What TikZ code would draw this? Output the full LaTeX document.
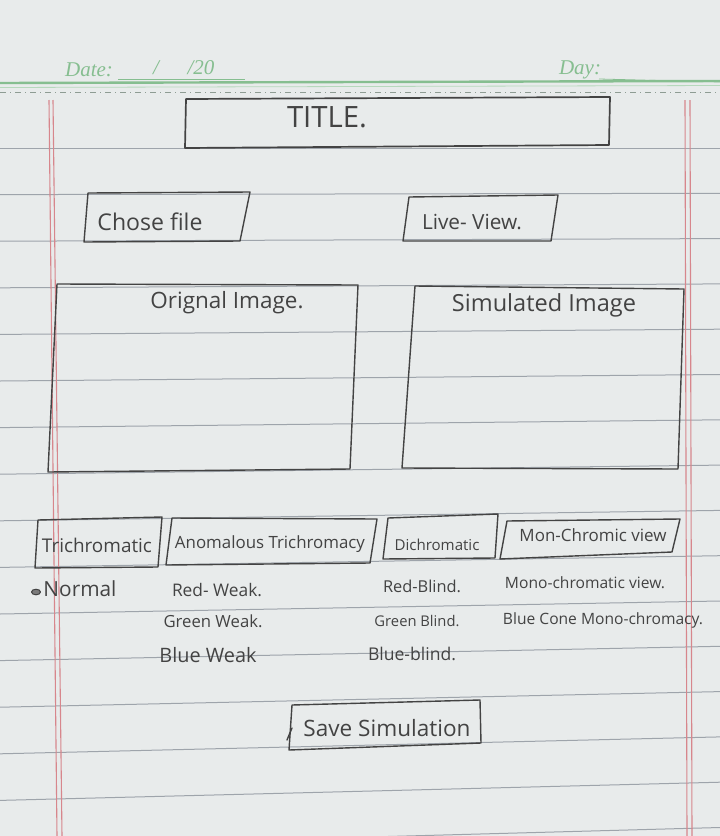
\documentclass[tikz,border=0pt]{standalone}
\usepackage{fontspec}
\setmainfont{Open Sans}
\newfontfamily\printfont{Liberation Serif}
\usepackage{graphicx}
\definecolor{paper}{HTML}{E8EBEB}
\definecolor{pencil}{HTML}{434343}
\definecolor{rulecol}{HTML}{9EA4AB}
\definecolor{margincol}{HTML}{D7868C}
\definecolor{headgreen}{HTML}{86BE90}
\definecolor{dotcol}{HTML}{8E9C93}
% handwritten label squeezed to a given width
\newcommand\inked[2]{\resizebox{#1pt}{!}{#2}}

\begin{document}
\begin{tikzpicture}[x=1pt,y=-1pt,
  pencil/.style={draw=pencil, line width=1.4pt, line join=round, line cap=round},
  hand/.style={text=pencil, inner sep=0pt, anchor=center},
  rule/.style={draw=rulecol, line width=1pt},
  margin/.style={draw=margincol, line width=1.1pt},
  header/.style={text=headgreen, inner sep=0pt, font=\printfont\itshape\fontsize{21}{21}\selectfont}]

% paper
\fill[paper] (0,0) rectangle (720,836);
\useasboundingbox (0,0) rectangle (720,836);

% ruled lines
\foreach \k in {0,...,15}
  \draw[rule] (0,{148+46.6*\k}) -- (720,{148+45.3*\k});

% red margins
\draw[margin] (49,100) -- (57,836);
\draw[margin] (53,100) -- (62,836);
\draw[margin] (685,100) -- (687,836);
\draw[margin] (690,100) -- (692,836);

% printed header
\draw[headgreen, line width=2.4pt] (0,83) -- (720,81);
\draw[headgreen!60, line width=0.8pt] (0,87.5) -- (720,85.5);
\draw[dotcol, line width=0.9pt, dash pattern=on 6pt off 4pt on 1pt off 4pt] (0,92) -- (720,92);
\node[header] (date) at (89,70) {Date:};
\draw[headgreen, line width=0.8pt] (118,79) -- (245,79);
\node[header] (slash) at (156,68) {/};
\node[header] (year) at (201,68) {/20};
\node[header] (day) at (580,70) {Day:};
\draw[headgreen, line width=0.8pt] (599,79) -- (720,82);

% title bar
\draw[pencil, line width=1.7pt] (186,99) -- (610,97) -- (609,145) -- (185,148) -- cycle;
\node[hand] (title) at (327,117) {\inked{80}{TITLE.}};

% file / live buttons
\draw[pencil] (88,193) -- (250,192) -- (240,241) -- (84,242) -- cycle;
\node[hand] (chose) at (150,222) {\inked{105}{Chose file}};
\draw[pencil] (409,197) -- (558,195) -- (551,241) -- (403,241) -- cycle;
\node[hand] (live) at (472,222) {\inked{100}{Live- View.}};

% image panels
\draw[pencil] (57,284) -- (358,285) -- (350,469) -- (48,472) -- cycle;
\node[hand] (orig) at (227,303) {\inked{153}{Orignal Image.}};
\draw[pencil] (415,286) -- (684,289) -- (678,469) -- (402,468) -- cycle;
\node[hand] (sim) at (544,305) {\inked{184}{Simulated Image}};

% vision mode tabs
\draw[pencil] (38,520) -- (162,517) -- (158,567) -- (35,568) -- cycle;
\node[hand] (tri) at (97,545) {\inked{110}{Trichromatic}};
\draw[pencil] (172,518) -- (377,519) -- (370,563) -- (166,565) -- cycle;
\node[hand] (anom) at (270,544) {\inked{190}{Anomalous Trichromacy}};
\draw[pencil] (388,518) -- (498,514) -- (495,558) -- (383,559) -- cycle;
\node[hand] (dich) at (437,545) {\inked{85}{Dichromatic}};
\draw[pencil] (507,521) -- (680,519) -- (672,552) -- (500,559) -- cycle;
\node[hand] (mono) at (593,535) {\inked{147}{Mon-Chromic view}};

% options under each tab
\filldraw[pencil, fill=pencil!70, line width=1pt] (36,592) ellipse (4.5pt and 2.8pt);
\node[hand] (normal) at (80,589) {\inked{73}{Normal}};
\node[hand] (redw) at (217,590) {\inked{90}{Red- Weak.}};
\node[hand] (greenw) at (213,621) {\inked{99}{Green Weak.}};
\node[hand] (bluew) at (208,655) {\inked{97}{Blue Weak}};
\node[hand] (redb) at (422,586) {\inked{78}{Red-Blind.}};
\node[hand] (greenb) at (417,621) {\inked{85}{Green Blind.}};
\node[hand] (blueb) at (412,654) {\inked{88}{Blue-blind.}};
\node[hand] (monov) at (585,583) {\inked{160}{Mono-chromatic view.}};
\node[hand] (bluecone) at (603,620) {\inked{200}{Blue Cone Mono-chromacy.}};

% save button
\draw[pencil] (292,705) -- (480,700) -- (481,743) -- (289,750) -- cycle;
\draw[pencil] (292,728) -- (287,740);
\node[hand] (save) at (387,728) {\inked{167}{Save Simulation}};
\end{tikzpicture}
\end{document}
